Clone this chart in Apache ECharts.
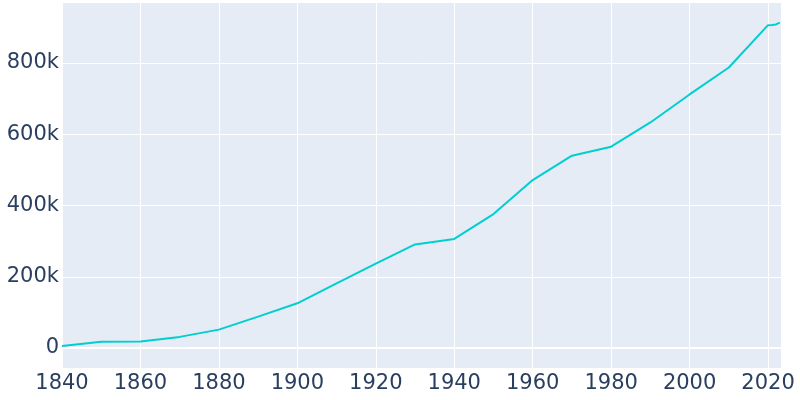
<!DOCTYPE html>
<html><head><meta charset="utf-8">
<script src="https://cdn.jsdelivr.net/npm/echarts@6/dist/echarts.min.js"></script>
<style>html,body{margin:0;padding:0;background:#fff}#c{width:800px;height:400px}</style>
</head><body><div id="c"></div>
<script>
const years = [1840,1850,1860,1870,1880,1890,1900,1910,1920,1930,1940,1950,1960,1970,1980,1990,2000,2010,2020,2021,2022,2023];
const population = [6048,17882,18554,31274,51647,88150,125560,181511,237031,290564,306087,375901,471316,539677,564871,632910,711470,787033,905748,906528,907971,913175];
const yTicks = [0,200000,400000,600000,800000];
const xTicks = [1840,1860,1880,1900,1920,1940,1960,1980,2000,2020];

const font = {fontFamily:'"DejaVu Sans", sans-serif', fontSize:21, color:'#2a3f5f'};
const chart = echarts.init(document.getElementById('c'), null, {renderer:'canvas'});
chart.setOption({
  animation:false,
  backgroundColor:'#fff',
  grid:{left:62,right:19,top:3,bottom:32,show:true,backgroundColor:'#E5ECF6',borderWidth:0},
  xAxis:{type:'value',min:1840,max:2023.3,interval:20,
    axisLine:{show:false},axisTick:{show:false},
    axisLabel:Object.assign({margin:5,hideOverlap:false,customValues:xTicks,formatter:v=>String(v)},font),
    splitLine:{show:true,lineStyle:{color:'#fff',width:1}}},
  yAxis:{type:'value',min:-56000,max:968000,
    axisLine:{show:false},axisTick:{show:false,customValues:yTicks},
    axisLabel:Object.assign({margin:3,customValues:yTicks,formatter:v=>v===0?'0':(v/1000)+'k'},font),
    splitLine:{show:false}},
  series:[{type:'line',data:years.map((y,i)=>[y,population[i]]),showSymbol:false,
    lineStyle:{color:'#00CED1',width:2},itemStyle:{color:'#00CED1'},
    markLine:{silent:true,symbol:'none',label:{show:false},
      data:yTicks.map(v=>({yAxis:v,lineStyle:{color:'#fff',type:'solid',width:v===0?2:1}}))},
    z:5}]
});
</script></body></html>
